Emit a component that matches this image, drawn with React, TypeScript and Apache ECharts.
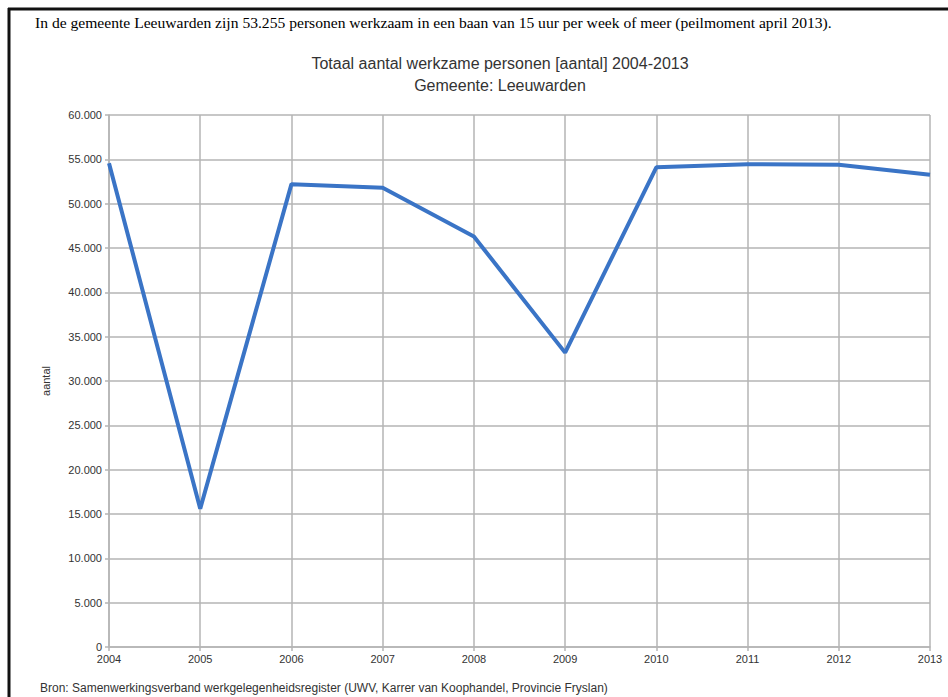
import React, { useEffect, useRef } from "react";
import * as echarts from "echarts";

const years = ["2004", "2005", "2006", "2007", "2008", "2009", "2010", "2011", "2012", "2013"];
const werkzamePersonen = [54550, 15600, 52200, 51800, 46300, 33200, 54100, 54450, 54400, 53255];
const yTicks = { min: 0, max: 60000, interval: 5000 };

const introText =
  "In de gemeente Leeuwarden zijn 53.255 personen werkzaam in een baan van 15 uur per week of meer (peilmoment april 2013).";
const titleLines = ["Totaal aantal werkzame personen [aantal] 2004-2013", "Gemeente: Leeuwarden"];
const sourceText =
  "Bron: Samenwerkingsverband werkgelegenheidsregister (UWV, Karrer van Koophandel, Provincie Fryslan)";

const narrow = "'Liberation Sans Narrow', 'Arial Narrow', 'Liberation Sans', sans-serif";
const gridGray = "#b5b5b5";

const fmt = (v: number) => {
  const s = String(Math.round(v));
  return s.replace(/\B(?=(\d{3})+(?!\d))/g, ".");
};

export default function App() {
  const ref = useRef<HTMLDivElement>(null);

  useEffect(() => {
    if (!ref.current) return;
    const chart = echarts.init(ref.current, undefined, { renderer: "svg" });
    chart.setOption({
      animation: false,
      backgroundColor: "#ffffff",
      grid: { left: 109, right: 18, top: 115, bottom: 50, containLabel: false },
      xAxis: {
        type: "category",
        data: years,
        boundaryGap: false,
        axisLine: { show: true, lineStyle: { color: gridGray, width: 1.5 } },
        axisTick: { show: true, length: 4, alignWithLabel: true, lineStyle: { color: gridGray, width: 1.5 } },
        splitLine: { show: true, lineStyle: { color: gridGray, width: 1.5 } },
        axisLabel: { color: "#333", fontFamily: narrow, fontSize: 11, margin: 6 },
      },
      yAxis: {
        type: "value",
        min: yTicks.min,
        max: yTicks.max,
        interval: yTicks.interval,
        name: "aantal",
        nameLocation: "middle",
        nameGap: 58,
        nameRotate: 90,
        nameTextStyle: { color: "#333", fontFamily: narrow, fontSize: 11 },
        axisLine: { show: true, lineStyle: { color: gridGray, width: 1.5 } },
        axisTick: { show: true, length: 4, lineStyle: { color: gridGray, width: 1.5 } },
        splitLine: { show: true, lineStyle: { color: gridGray, width: 1.5 } },
        axisLabel: {
          color: "#333",
          fontFamily: narrow,
          fontSize: 11,
          margin: 7,
          formatter: fmt,
          padding: [0, 0, 3, 0],
        },
      },
      series: [
        {
          type: "line",
          data: werkzamePersonen,
          showSymbol: false,
          symbol: "none",
          lineStyle: { color: "#3a74c6", width: 4 },
          z: 3,
        },
      ],
      graphic: [
        {
          type: "line",
          shape: { x1: 8, y1: 9, x2: 948, y2: 9 },
          style: { stroke: "#111", lineWidth: 3 },
        },
        {
          type: "line",
          shape: { x1: 9, y1: 8, x2: 9, y2: 697 },
          style: { stroke: "#111", lineWidth: 3 },
        },
        {
          type: "text",
          x: 35,
          y: 22,
          style: {
            text: introText,
            fill: "#000",
            font: "15.6px 'Liberation Serif', 'Times New Roman', serif",
            textAlign: "left",
            textVerticalAlign: "middle",
          },
        },
        {
          type: "text",
          x: 500,
          y: 63,
          style: {
            text: titleLines[0],
            fill: "#333",
            font: "16px 'Liberation Sans', Arial, sans-serif",
            textAlign: "center",
            textVerticalAlign: "middle",
          },
        },
        {
          type: "text",
          x: 500,
          y: 85,
          style: {
            text: titleLines[1],
            fill: "#333",
            font: "16px 'Liberation Sans', Arial, sans-serif",
            textAlign: "center",
            textVerticalAlign: "middle",
          },
        },
        {
          type: "text",
          x: 40,
          y: 688,
          style: {
            text: sourceText,
            fill: "#333",
            font: `12px ${narrow}`,
            textAlign: "left",
            textVerticalAlign: "middle",
          },
        },
      ],
    });
    return () => chart.dispose();
  }, []);

  return (
    <div
      ref={ref}
      style={{ position: "fixed", left: 0, top: 0, width: 948, height: 697, background: "#fff" }}
    />
  );
}
